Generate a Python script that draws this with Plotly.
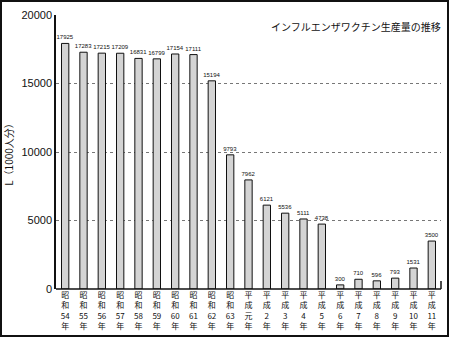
import plotly.graph_objects as go

# Fiscal years (Showa 54 – Heisei 11) and vaccine output
years = ["昭<br>和<br>54<br>年", "昭<br>和<br>55<br>年", "昭<br>和<br>56<br>年", "昭<br>和<br>57<br>年",
         "昭<br>和<br>58<br>年", "昭<br>和<br>59<br>年", "昭<br>和<br>60<br>年", "昭<br>和<br>61<br>年",
         "昭<br>和<br>62<br>年", "昭<br>和<br>63<br>年", "平<br>成<br>元<br>年", "平<br>成<br>2<br>年",
         "平<br>成<br>3<br>年", "平<br>成<br>4<br>年", "平<br>成<br>5<br>年", "平<br>成<br>6<br>年",
         "平<br>成<br>7<br>年", "平<br>成<br>8<br>年", "平<br>成<br>9<br>年", "平<br>成<br>10<br>年",
         "平<br>成<br>11<br>年"]
output = [17925, 17283, 17215, 17209, 16831, 16799, 17154, 17111, 15194, 9793,
          7962, 6121, 5536, 5111, 4738, 300, 710, 596, 793, 1531, 3500]
y_ticks = [0, 5000, 10000, 15000, 20000]

FONT = "Noto Sans CJK JP"
INK = "#111111"
W, H = 450, 338
ML, MR, MT, MB = 56, 9, 15, 49
PW, PH = W - ML - MR, H - MT - MB


def px_x(px):
    return (px - ML) / PW


def px_y(py):
    return (H - MB - py) / PH


fig = go.Figure(go.Bar(
    x=list(range(len(years))),
    y=output,
    text=[str(v) for v in output],
    textposition="outside",
    constraintext="none",
    textfont=dict(size=6, color=INK, family="Liberation Sans"),
    cliponaxis=False,
    marker=dict(color="#d4d4d4", line=dict(color=INK, width=1)),
))

fig.update_layout(
    width=W, height=H,
    margin=dict(l=ML, r=MR, t=MT, b=MB, autoexpand=False),
    paper_bgcolor="white", plot_bgcolor="white",
    showlegend=False,
    bargap=0.6,
    font=dict(family=FONT, color=INK),
    xaxis=dict(
        tickmode="array", tickvals=list(range(len(years))), ticktext=years,
        range=[-0.5, len(years) - 0.5],
        showgrid=False, zeroline=False, showline=False, automargin=False,
        ticks="", tickangle=0, tickfont=dict(size=8, family=FONT, color=INK),
    ),
    yaxis=dict(
        range=[0, 20000], tickvals=y_ticks, tickformat="d", automargin=False,
        showgrid=True, gridcolor="#777", griddash="dot", gridwidth=1,
        zeroline=False, showline=True, linecolor=INK, linewidth=1.5,
        ticks="", tickfont=dict(size=11, family="Liberation Sans", color=INK),
        title=dict(text="L（1000人分）", font=dict(size=10, family=FONT, color=INK), standoff=6),
    ),
)

# baseline, right-hand end tick and outer frame
fig.add_shape(type="line", xref="paper", yref="paper", x0=0, x1=1, y0=0, y1=0,
              line=dict(color=INK, width=1.5))
fig.add_shape(type="line", xref="paper", yref="paper", x0=1, x1=1, y0=0, y1=px_y(281),
              line=dict(color=INK, width=1.5))
fig.add_shape(type="rect", xref="paper", yref="paper",
              x0=px_x(1), x1=px_x(448), y0=px_y(336), y1=px_y(1),
              line=dict(color=INK, width=2))

fig.add_annotation(text="インフルエンザワクチン生産量の推移", xref="paper", yref="paper",
                   x=px_x(269), y=px_y(27), xanchor="left", yanchor="middle",
                   showarrow=False, font=dict(size=10, family=FONT, color=INK))

fig.write_html("out.html")
